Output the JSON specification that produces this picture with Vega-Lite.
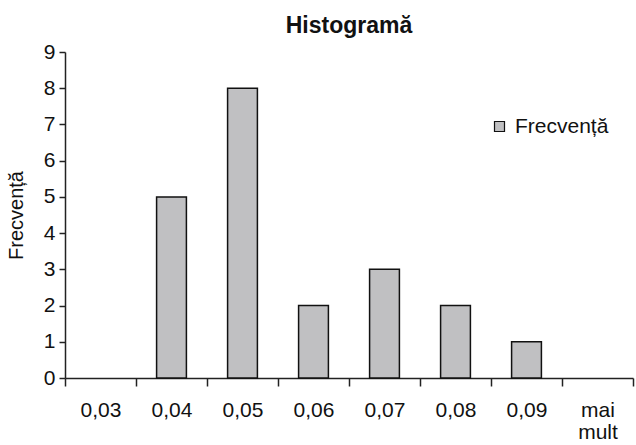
{
  "$schema": "https://vega.github.io/schema/vega-lite/v6.json",
  "width": 568,
  "height": 326,
  "autosize": {"type": "none"},
  "padding": {"left": 65, "top": 52, "right": 3, "bottom": 67},
  "background": "white",
  "title": {"text": "Histogramă", "font": "Liberation Sans", "fontSize": 23, "fontWeight": "bold", "color": "#111", "offset": 3, "anchor": "middle"},
  "data": {"values": [
    {"bin": "0,03", "freq": 0, "series": "Frecvență"},
    {"bin": "0,04", "freq": 5, "series": "Frecvență"},
    {"bin": "0,05", "freq": 8, "series": "Frecvență"},
    {"bin": "0,06", "freq": 2, "series": "Frecvență"},
    {"bin": "0,07", "freq": 3, "series": "Frecvență"},
    {"bin": "0,08", "freq": 2, "series": "Frecvență"},
    {"bin": "0,09", "freq": 1, "series": "Frecvență"},
    {"bin": "mai mult", "freq": 0, "series": "Frecvență"}
  ]},
  "mark": {"type": "bar", "stroke": "#111", "strokeWidth": 1.5, "width": {"band": 0.42}},
  "encoding": {
    "x": {"field": "bin", "type": "nominal", "sort": null,
      "scale": {"paddingInner": 0, "paddingOuter": 0},
      "axis": {"title": null, "labelAngle": 0, "tickBand": "extent", "tickSize": 8, "tickColor": "#222", "tickWidth": 1.5,
        "domainColor": "#222", "domainWidth": 1.5, "labelFont": "Liberation Sans", "labelFontSize": 21, "labelColor": "#111",
        "labelPadding": 13, "labelLineHeight": 22,
        "labelExpr": "datum.value == 'mai mult' ? ['mai', 'mult'] : datum.value"}},
    "y": {"field": "freq", "type": "quantitative",
      "scale": {"domain": [0, 9]},
      "axis": {"title": "Frecvență", "values": [0,1,2,3,4,5,6,7,8,9], "grid": false, "tickSize": 6, "tickColor": "#222", "tickWidth": 1.5,
        "domainColor": "#222", "domainWidth": 1.5, "labelFont": "Liberation Sans", "labelFontSize": 21, "labelColor": "#111",
        "labelPadding": 4, "titleFont": "Liberation Sans", "titleFontSize": 20, "titleFontWeight": "normal", "titleColor": "#111",
        "titleX": -49, "titleY": 163, "titleAngle": -90, "titleAlign": "center", "titleBaseline": "middle"}},
    "fill": {"field": "series", "type": "nominal", "scale": {"range": ["#c0c0c2"]},
      "legend": {"title": null, "orient": "none", "legendX": 424, "legendY": 64, "symbolType": "square", "symbolSize": 100,
        "symbolStrokeColor": "#111", "symbolStrokeWidth": 1.2, "labelFont": "Liberation Sans", "labelFontSize": 21, "labelColor": "#111", "labelOffset": 5}},
    "strokeOpacity": {"condition": {"test": "datum.freq == 0", "value": 0}, "value": 1}
  },
  "config": {"view": {"stroke": null}}
}
